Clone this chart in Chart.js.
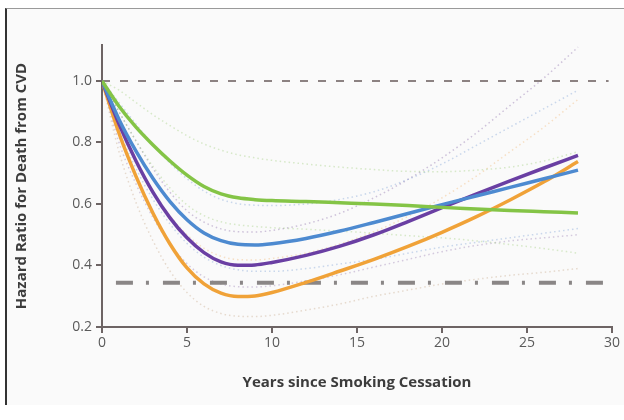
<!DOCTYPE html>
<html>
<head>
<meta charset="utf-8">
<script src="https://cdn.jsdelivr.net/npm/chart.js@4"></script>
<style>
  html, body { margin: 0; padding: 0; background: #ffffff; }
  #panel {
    position: absolute; left: 5px; top: 8px; width: 619px; height: 396px;
    background: #fafafa; border-left: 2px solid #333333; border-top: 1px solid #9a9a9a;
  }
  #chart { position: absolute; left: 0; top: 0; }
</style>
</head>
<body>
<div id="panel"></div>
<canvas id="chart" width="624" height="420"></canvas>
<script>
const years = [0, 1, 2, 3, 4, 5, 6, 7, 8, 9, 10, 12, 14, 16, 18, 20, 22, 24, 26, 28];

// main hazard ratio curves
const greenHR  = [1.0, 0.918, 0.85, 0.792, 0.74, 0.694, 0.657, 0.633, 0.62, 0.614, 0.611, 0.608, 0.604, 0.6, 0.595, 0.589, 0.584, 0.579, 0.575, 0.571];
const blueHR   = [1.0, 0.875, 0.772, 0.683, 0.608, 0.549, 0.506, 0.481, 0.469, 0.467, 0.471, 0.488, 0.512, 0.54, 0.569, 0.598, 0.626, 0.654, 0.682, 0.71];
const purpleHR = [1.0, 0.86, 0.74, 0.638, 0.555, 0.49, 0.442, 0.412, 0.401, 0.402, 0.41, 0.433, 0.463, 0.5, 0.543, 0.588, 0.632, 0.675, 0.717, 0.758];
const orangeHR = [1.0, 0.83, 0.69, 0.57, 0.47, 0.392, 0.34, 0.31, 0.299, 0.301, 0.312, 0.345, 0.382, 0.42, 0.462, 0.508, 0.558, 0.613, 0.672, 0.738];

// confidence bands (dotted)
const greenUpper  = [1.0, 0.97, 0.93, 0.89, 0.855, 0.822, 0.795, 0.775, 0.76, 0.75, 0.742, 0.73, 0.72, 0.712, 0.706, 0.705, 0.71, 0.72, 0.74, 0.77];
const greenLower  = [1.0, 0.9, 0.805, 0.722, 0.652, 0.597, 0.562, 0.542, 0.532, 0.527, 0.523, 0.518, 0.512, 0.505, 0.497, 0.49, 0.48, 0.468, 0.455, 0.44];
const blueUpper   = [1.0, 0.93, 0.86, 0.793, 0.733, 0.682, 0.642, 0.615, 0.601, 0.596, 0.595, 0.6, 0.615, 0.64, 0.68, 0.73, 0.79, 0.85, 0.91, 0.97];
const blueLower   = [1.0, 0.84, 0.715, 0.615, 0.535, 0.472, 0.427, 0.4, 0.386, 0.381, 0.381, 0.39, 0.405, 0.42, 0.44, 0.46, 0.475, 0.49, 0.505, 0.52];
const purpleUpper = [1.0, 0.9, 0.805, 0.715, 0.638, 0.578, 0.541, 0.519, 0.51, 0.509, 0.514, 0.535, 0.57, 0.62, 0.68, 0.75, 0.83, 0.92, 1.01, 1.11];
const purpleLower = [1.0, 0.8, 0.665, 0.556, 0.47, 0.406, 0.363, 0.34, 0.331, 0.33, 0.334, 0.35, 0.37, 0.395, 0.42, 0.445, 0.465, 0.48, 0.49, 0.5];
const orangeUpper = [1.0, 0.86, 0.742, 0.642, 0.562, 0.5, 0.456, 0.43, 0.419, 0.418, 0.423, 0.44, 0.47, 0.51, 0.56, 0.62, 0.69, 0.77, 0.85, 0.94];
const orangeLower = [1.0, 0.77, 0.605, 0.48, 0.382, 0.312, 0.267, 0.244, 0.235, 0.234, 0.238, 0.255, 0.275, 0.3, 0.32, 0.34, 0.355, 0.368, 0.378, 0.39];

// reference lines
const refLevel = 1.0;
const neverSmokerLevel = 0.344;
const refSpan = [0, 29.8];
const dashDotSpan = [0.82, 29.8];

const yTicks = [0.2, 0.4, 0.6, 0.8, 1.0];
const xTicks = [0, 5, 10, 15, 20, 25, 30];

const AXIS = '#6d6464';
const FONT = "'Open Sans', sans-serif";

function pts(values) {
    return years.map((x, i) => ({ x: x, y: values[i] }));
}

function mainLine(values, color) {
    return {
        data: pts(values),
        borderColor: color,
        borderWidth: 3.5,
        pointRadius: 0,
        cubicInterpolationMode: 'monotone',
        order: 0
    };
}

function bandLine(values, color) {
    return {
        data: pts(values),
        borderColor: color,
        borderWidth: 1.5,
        borderDash: [1.5, 3],
        pointRadius: 0,
        cubicInterpolationMode: 'monotone',
        order: 2
    };
}

new Chart(document.getElementById('chart').getContext('2d'), {
    type: 'line',
    data: {
        datasets: [
            mainLine(greenHR, '#84c446'),
            mainLine(blueHR, '#4d8ad0'),
            mainLine(purpleHR, '#6a3fa3'),
            mainLine(orangeHR, '#f0a238'),
            {
                data: refSpan.map(x => ({ x: x, y: refLevel })),
                borderColor: '#8c8282',
                borderWidth: 2,
                borderDash: [8, 10],
                pointRadius: 0,
                order: 1
            },
            {
                data: dashDotSpan.map(x => ({ x: x, y: neverSmokerLevel })),
                borderColor: '#8a8686',
                borderWidth: 4,
                borderDash: [17, 13, 3, 14],
                pointRadius: 0,
                order: 1
            },
            bandLine(greenUpper, 'rgba(150, 200, 110, 0.35)'),
            bandLine(greenLower, 'rgba(150, 200, 110, 0.35)'),
            bandLine(blueUpper, 'rgba(110, 150, 210, 0.35)'),
            bandLine(blueLower, 'rgba(110, 150, 210, 0.35)'),
            bandLine(purpleUpper, 'rgba(140, 110, 170, 0.4)'),
            bandLine(purpleLower, 'rgba(140, 110, 170, 0.35)'),
            bandLine(orangeUpper, 'rgba(240, 175, 100, 0.35)'),
            bandLine(orangeLower, 'rgba(200, 170, 140, 0.4)')
        ]
    },
    options: {
        responsive: false,
        animation: false,
        layout: { padding: { top: 45, right: 12, left: 0, bottom: 0 } },
        plugins: {
            legend: { display: false },
            tooltip: { enabled: false }
        },
        scales: {
            x: {
                type: 'linear',
                min: 0,
                max: 30,
                afterFit: (s) => { s.height = 93; },
                afterBuildTicks: (s) => { s.ticks = xTicks.map(v => ({ value: v })); },
                grid: { drawOnChartArea: false, color: AXIS, lineWidth: 2, tickLength: 6 },
                border: { color: AXIS, width: 2 },
                ticks: { color: '#5a5a5a', font: { family: FONT, size: 14 }, padding: 2 },
                title: {
                    display: true,
                    text: 'Years since Smoking Cessation',
                    color: '#3c3c3c',
                    font: { family: FONT, size: 15, weight: 'bold' },
                    padding: { top: 0, bottom: 28 }
                }
            },
            y: {
                min: 0.2,
                max: 1.117,
                afterFit: (s) => { s.width = 102; },
                afterBuildTicks: (s) => { s.ticks = yTicks.map(v => ({ value: v })); },
                grid: { drawOnChartArea: false, color: AXIS, lineWidth: 2, tickLength: 6 },
                border: { color: AXIS, width: 2 },
                ticks: {
                    color: '#5a5a5a',
                    font: { family: FONT, size: 14 },
                    padding: 4,
                    callback: (v) => Number(v).toFixed(1)
                },
                title: {
                    display: true,
                    text: 'Hazard Ratio for Death from CVD',
                    color: '#3c3c3c',
                    font: { family: FONT, size: 15, weight: 'bold' },
                    padding: { top: 13, bottom: 0 }
                }
            }
        }
    }
});
</script>
</body>
</html>
